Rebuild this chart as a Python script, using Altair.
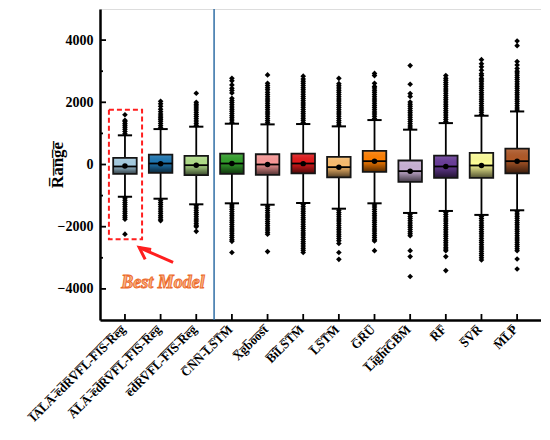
import json
import altair as alt
import pandas as pd

# ---------------- data ----------------
models = ["IALA-edRVFL-FIS-Reg", "ALA-edRVFL-FIS-Reg", "edRVFL-FIS-Reg", "CNN-LSTM",
          "Xgboost", "BiLSTM", "LSTM", "GRU", "LightGBM", "RF", "SVR", "MLP"]
colors = ["#A6CEE3", "#1F78B4", "#B2DF8A", "#33A02C", "#FB9A99", "#E31A1C",
          "#FDBF6F", "#FF7F00", "#CAB2D6", "#6A3D9A", "#FFFF99", "#B15928"]
q1 = [-300, -269, -342, -300, -333, -288, -416, -237, -556, -429, -429, -288]
q3 = [211, 320, 277, 352, 330, 352, 245, 437, 128, 288, 371, 512]
median = [-64, 32, -22, 32, 0, 32, -85, 107, -214, -64, -32, 107]
mean = [-45, 22, -22, 32, 0, 28, -85, 107, -214, -64, -32, 107]
whisker_lo = [-1037, -1100, -1280, -1248, -1293, -1238, -1421, -1248, -1558, -1494, -1621, -1472]
whisker_hi = [938, 1139, 1216, 1312, 1290, 1301, 1226, 1429, 1120, 1331, 1568, 1706]

outliers_high = [
    [990, 1060, 1130, 1200, 1260, 1320, 1380, 1420, 1600],
    [1180, 1250, 1320, 1390, 1450, 1500, 1560, 1620, 1700, 1780, 1870, 1950, 2030],
    [1260, 1330, 1400, 1470, 1540, 1610, 1680, 1750, 1820, 1880, 1940, 2000, 2290],
    [1360, 1430, 1500, 1570, 1640, 1710, 1780, 1850, 1920, 1990, 2060, 2130, 2300, 2380, 2450, 2560, 2690, 2770],
    [1340, 1410, 1480, 1550, 1620, 1690, 1760, 1830, 1900, 1970, 2040, 2110, 2180, 2250, 2320, 2400, 2470, 2540, 2610, 2880],
    [1350, 1420, 1490, 1560, 1630, 1700, 1770, 1840, 1910, 1980, 2050, 2120, 2190, 2260, 2330, 2400, 2470, 2540, 2610, 2680, 2750, 2840],
    [1270, 1340, 1410, 1480, 1550, 1620, 1690, 1760, 1830, 1900, 1970, 2040, 2110, 2180, 2250, 2320, 2390, 2460, 2530, 2600, 2770],
    [1480, 1550, 1620, 1690, 1760, 1830, 1900, 1970, 2040, 2110, 2180, 2250, 2320, 2390, 2460, 2510, 2610, 2860, 2930],
    [1170, 1240, 1310, 1380, 1450, 1520, 1590, 1660, 1730, 1800, 1870, 1940, 2010, 2190, 2280, 2580, 3180],
    [1380, 1450, 1520, 1590, 1660, 1730, 1800, 1870, 1940, 2010, 2080, 2150, 2220, 2290, 2360, 2430, 2500, 2570, 2640, 2710, 2770, 2860],
    [1610, 1680, 1750, 1820, 1890, 1960, 2030, 2100, 2170, 2240, 2310, 2380, 2450, 2520, 2590, 2660, 2720, 2770, 2860, 2920, 3030, 3140, 3240, 3370],
    [1750, 1820, 1890, 1960, 2030, 2100, 2170, 2240, 2310, 2380, 2450, 2520, 2590, 2660, 2730, 2800, 2870, 2940, 3000, 3090, 3200, 3310, 3820, 3970],
]
outliers_low = [
    [-1080, -1150, -1220, -1290, -1360, -1430, -1500, -1570, -1640, -1700, -1760, -2240],
    [-1150, -1220, -1290, -1360, -1430, -1500, -1570, -1640, -1700, -1760, -1810],
    [-1330, -1400, -1470, -1540, -1610, -1680, -1750, -1820, -1890, -1950, -2000, -2150],
    [-1300, -1370, -1440, -1510, -1580, -1650, -1720, -1790, -1860, -1930, -2000, -2070, -2140, -2210, -2280, -2350, -2420, -2470, -2830],
    [-1340, -1410, -1480, -1550, -1620, -1690, -1760, -1830, -1900, -1970, -2040, -2110, -2180, -2240, -2800],
    [-1290, -1360, -1430, -1500, -1570, -1640, -1710, -1780, -1850, -1920, -1990, -2060, -2130, -2200, -2270, -2340, -2410, -2480, -2550, -2620, -2690, -2760, -2830],
    [-1470, -1540, -1610, -1680, -1750, -1820, -1890, -1960, -2030, -2100, -2170, -2240, -2310, -2380, -2450, -2540, -2830, -3050],
    [-1300, -1370, -1440, -1510, -1580, -1650, -1720, -1790, -1860, -1930, -2000, -2070, -2140, -2210, -2280, -2350, -2420, -2460, -2770],
    [-1600, -1670, -1740, -1810, -1880, -1950, -2020, -2090, -2160, -2230, -2290, -2770, -2960, -3600],
    [-1540, -1610, -1680, -1750, -1820, -1890, -1960, -2030, -2100, -2170, -2240, -2310, -2380, -2450, -2520, -2590, -2660, -2720, -2770, -2960, -3410],
    [-1670, -1740, -1810, -1880, -1950, -2020, -2090, -2160, -2230, -2300, -2370, -2440, -2510, -2580, -2650, -2720, -2790, -2860, -2930, -3000, -3070],
    [-1520, -1590, -1660, -1730, -1800, -1870, -1940, -2010, -2080, -2150, -2220, -2290, -2360, -2430, -2500, -2570, -2640, -2710, -2770, -3040, -3360],
]

y_major = [-4000, -2000, 0, 2000, 4000]
y_minor = [-3000, -1000, 1000, 3000]
y_domain = [-5000, 5000]
x_domain = [-0.7, 11.67]
separator_x = [2.5]

# annotation (data coordinates)
best_box_x = [-0.45, 0.48]
best_box_y = [-2400, 1760]
arrow_tail = [1.35, -3149]
arrow_head_x = [0.735, 0.40, 0.567]
arrow_head_y = [-2733, -2669, -3053]
best_text = "Best Model"
best_text_pos = [1.07, -3960]

# ---------------- layout ----------------
W, H = 441, 311
FONT = "Liberation Serif, Times New Roman, serif"
OVER = "\u0305"


def overline(s):
    return "".join(ch + OVER for ch in s)


n = len(models)
idx = list(range(n))
box_half, cap_half = 0.33, 0.2
x_per_px = (x_domain[1] - x_domain[0]) / W
y_per_px = (y_domain[1] - y_domain[0]) / H

box_df = pd.DataFrame({"model": models, "i": idx, "q1": q1, "q3": q3, "median": median,
                       "mean": mean, "wlo": whisker_lo, "whi": whisker_hi})
box_df["bx1"] = box_df["i"] - box_half
box_df["bx2"] = box_df["i"] + box_half
box_df["cx1"] = box_df["i"] - cap_half
box_df["cx2"] = box_df["i"] + cap_half

rows = []
for k in range(n):
    for v in outliers_high[k] + outliers_low[k]:
        rows.append({"model": models[k], "i": k, "v": v})
out_df = pd.DataFrame(rows)

xs = alt.Scale(domain=x_domain, nice=False, zero=False)
ys = alt.Scale(domain=y_domain, nice=False, zero=False)

labels_over = [overline(m) for m in models]
x_axis = alt.Axis(values=idx, labelExpr=json.dumps(labels_over) + "[datum.value]",
                  labelAngle=315, labelAlign="right", labelBaseline="middle",
                  labelPadding=7, labelOffset=-2, tickSize=0, grid=False, title=None,
                  domainColor="black", domainWidth=2.5, labelFont=FONT,
                  labelFontWeight="bold", labelFontSize=12.5, labelColor="black",
                  labelLimit=400, labelOverlap=False, labelFlush=False)
y_axis = alt.Axis(values=y_major, format="d", tickSize=0, labelPadding=7, grid=False,
                  domainColor="black", domainWidth=2.5, labelFont=FONT,
                  labelFontWeight="bold", labelFontSize=14, labelColor="black",
                  title=overline("Range"), titleFont=FONT, titleFontWeight="bold",
                  titleFontSize=17, titleColor="black", titleAngle=270,
                  titleX=-38, titleY=H / 2, titleAlign="center", titleBaseline="alphabetic")

base = alt.Chart(box_df)

whiskers = base.mark_rule(color="black", strokeWidth=1.8).encode(
    x=alt.X("i:Q", scale=xs, axis=x_axis),
    y=alt.Y("wlo:Q", scale=ys, axis=y_axis),
    y2="whi:Q")

caps_hi = base.mark_rule(color="black", strokeWidth=2).encode(
    x=alt.X("cx1:Q", scale=xs), x2="cx2:Q", y=alt.Y("whi:Q", scale=ys))
caps_lo = base.mark_rule(color="black", strokeWidth=2).encode(
    x=alt.X("cx1:Q", scale=xs), x2="cx2:Q", y=alt.Y("wlo:Q", scale=ys))

boxes = base.mark_rect().encode(
    x=alt.X("bx1:Q", scale=xs), x2="bx2:Q",
    y=alt.Y("q1:Q", scale=ys), y2="q3:Q",
    color=alt.Color("model:N", scale=alt.Scale(domain=models, range=colors), legend=None))

grad = alt.LinearGradient(
    gradient="linear", x1=0, x2=0, y1=0, y2=1,
    stops=[alt.GradientStop(color="rgba(255,255,255,0.15)", offset=0),
           alt.GradientStop(color="rgba(0,0,0,0)", offset=0.45),
           alt.GradientStop(color="rgba(0,0,0,0.68)", offset=1)])
shade = base.mark_rect(fill=grad, stroke="#151515", strokeWidth=1.8).encode(
    x=alt.X("bx1:Q", scale=xs), x2="bx2:Q",
    y=alt.Y("q1:Q", scale=ys), y2="q3:Q")

med = base.mark_rule(color="black", strokeWidth=1.8).encode(
    x=alt.X("bx1:Q", scale=xs), x2="bx2:Q", y=alt.Y("median:Q", scale=ys))

mean_pt = base.mark_point(shape="circle", filled=True, color="black", size=30, opacity=1).encode(
    x=alt.X("i:Q", scale=xs), y=alt.Y("mean:Q", scale=ys))

outl = alt.Chart(out_df).mark_point(shape="diamond", filled=True, color="black", size=32,
                                    opacity=1).encode(
    x=alt.X("i:Q", scale=xs), y=alt.Y("v:Q", scale=ys))

sep = alt.Chart(pd.DataFrame({"x": separator_x})).mark_rule(color="#2F6EA5", strokeWidth=1.5).encode(
    x=alt.X("x:Q", scale=xs))

# inward axis ticks
xt = base.mark_rule(color="black", strokeWidth=1.8).encode(
    x=alt.X("i:Q", scale=xs),
    y=alt.datum(y_domain[0]), y2=alt.datum(y_domain[0] + 6 * y_per_px))
ymaj = alt.Chart(pd.DataFrame({"y": y_major})).mark_rule(color="black", strokeWidth=1.8).encode(
    y=alt.Y("y:Q", scale=ys), x=alt.datum(x_domain[0]), x2=alt.datum(x_domain[0] + 6 * x_per_px))
ymin = alt.Chart(pd.DataFrame({"y": y_minor})).mark_rule(color="black", strokeWidth=1.8).encode(
    y=alt.Y("y:Q", scale=ys), x=alt.datum(x_domain[0]), x2=alt.datum(x_domain[0] + 3 * x_per_px))

# annotations
best_rect = alt.Chart(pd.DataFrame({"x1": [best_box_x[0]], "x2": [best_box_x[1]],
                                    "y1": [best_box_y[0]], "y2": [best_box_y[1]]})).mark_rect(
    fill=None, stroke="#FF1E1E", strokeWidth=2, strokeDash=[5, 3]).encode(
    x=alt.X("x1:Q", scale=xs), x2="x2:Q", y=alt.Y("y1:Q", scale=ys), y2="y2:Q")

arrow_shaft = alt.Chart(pd.DataFrame({"x1": [arrow_tail[0]], "y1": [arrow_tail[1]],
                                      "x2": [arrow_head_x[1]], "y2": [arrow_head_y[1]]})).mark_rule(
    color="#FF1E1E", strokeWidth=3).encode(
    x=alt.X("x1:Q", scale=xs), x2="x2:Q", y=alt.Y("y1:Q", scale=ys), y2="y2:Q")
arrow_head = alt.Chart(pd.DataFrame({"x": arrow_head_x, "y": arrow_head_y, "o": [0, 1, 2]})).mark_line(
    color="#FF1E1E", strokeWidth=3, strokeJoin="miter").encode(
    x=alt.X("x:Q", scale=xs), y=alt.Y("y:Q", scale=ys), order="o:O")

best_lbl = alt.Chart(pd.DataFrame({"x": [best_text_pos[0]], "y": [best_text_pos[1]],
                                   "t": [best_text]})).mark_text(
    font=FONT, fontSize=18, fontWeight="bold", fontStyle="italic", fill="#F9B585",
    stroke="#EC6A2C", strokeWidth=0.9, align="center", baseline="alphabetic").encode(
    x=alt.X("x:Q", scale=xs), y=alt.Y("y:Q", scale=ys), text="t:N")

chart = alt.layer(
    sep, whiskers, caps_hi, caps_lo, boxes, shade, med, mean_pt, outl,
    xt, ymaj, ymin, best_rect, arrow_shaft, arrow_head, best_lbl
).properties(
    width=W, height=H,
    autosize=alt.AutoSizeParams(type="none"),
    padding={"left": 92, "top": 1, "right": 0, "bottom": 106},
).configure_view(
    stroke="black", strokeWidth=2, fill="#FFFEF8"
).configure(background="white")

chart.save("out.html", embed_options={"renderer": "svg", "actions": False})
